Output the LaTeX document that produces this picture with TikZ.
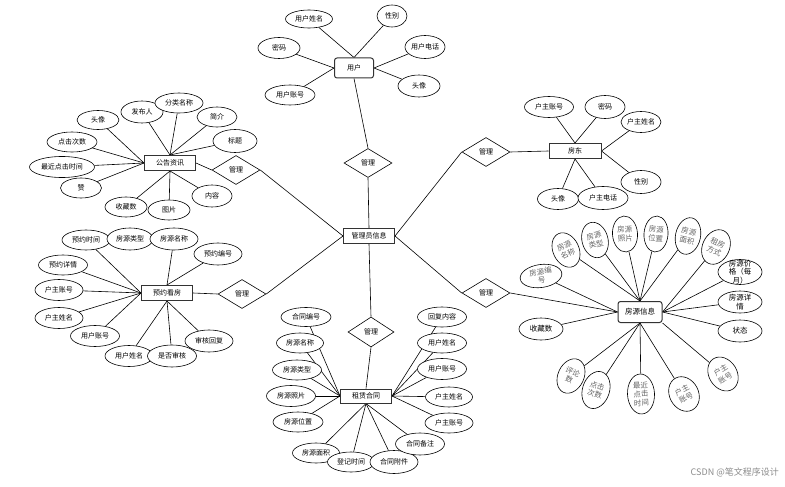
\documentclass[tikz,border=0pt]{standalone}
\usepackage{fontspec}
\setmainfont{Noto Sans CJK SC}
\usetikzlibrary{shapes.geometric,backgrounds}
\begin{document}
\begin{tikzpicture}[x=1pt,y=-1pt,
  every node/.style={inner sep=0pt,font=\fontsize{7}{8}\selectfont},
  sz/.style 2 args={minimum width=#1pt,minimum height=#2pt},
  attr/.style={ellipse,draw,fill=white,line width=0.6pt},
  hattr/.style={ellipse,draw,fill=white,line width=0.6pt,text=black!60,align=center,font=\fontsize{7.5}{8.8}\selectfont},
  ent/.style={rectangle,draw=black!80,fill=white,line width=1pt,minimum width=51pt,minimum height=15pt},
  rel/.style={diamond,draw,fill=white,line width=0.6pt,minimum width=48pt,minimum height=29pt},
  link/.style={line width=0.6pt}]
\useasboundingbox (0,0) rectangle (785,487);

% ---------- user ----------
\node[ent,rounded corners=2.5pt,sz={39}{20}] (u) at (354,68) {用户};
\node[attr,sz={47}{18}] (u1) at (309,19) {用户姓名};
\node[attr,sz={30}{22}] (u2) at (392,16) {性别};
\node[attr,sz={42}{21}] (u3) at (279,48) {密码};
\node[attr,sz={40}{23}] (u4) at (425,47) {用户电话};
\node[attr,sz={42}{22}] (u5) at (419,86) {头像};
\node[attr,sz={50}{20}] (u6) at (290,95) {用户账号};

% ---------- admin + relations ----------
\node[ent] (adm) at (369,236) {管理员信息};
\node[rel] (d1) at (368,163) {管理};
\node[rel] (d2) at (486,152) {管理};
\node[rel] (d3) at (486,293) {管理};
\node[rel,sz={46}{30}] (d4) at (371,332) {管理};
\node[rel] (dn) at (236,170) {管理};
\node[rel] (dr) at (242,294) {管理};

% ---------- notice ----------
\node[ent] (nt) at (170,163) {公告资讯};
\node[attr,sz={42}{19}] (n1) at (98,120) {头像};
\node[attr,sz={42}{22}] (n2) at (142,112) {发布人};
\node[attr,sz={48}{20}] (n3) at (179,103) {分类名称};
\node[attr,sz={40}{20}] (n4) at (217,117) {简介};
\node[attr,sz={44}{23}] (n5) at (235,141) {标题};
\node[attr,sz={50}{20}] (n6) at (72,142) {点击次数};
\node[attr,sz={65}{21}] (n7) at (62,167) {最近点击时间};
\node[attr,sz={41}{20}] (n8) at (81,188) {赞};
\node[attr,sz={42}{20}] (n9) at (126,207) {收藏数};
\node[attr,sz={42}{20}] (n10) at (169,210) {图片};
\node[attr,sz={40}{22}] (n11) at (212,196) {内容};

% ---------- landlord ----------
\node[ent,minimum width=52pt] (ld) at (575,151) {房东};
\node[attr,sz={49}{21}] (l1) at (549,107) {户主账号};
\node[attr,sz={40}{23}] (l2) at (605,107) {密码};
\node[attr,sz={40}{21}] (l3) at (641,122) {户主姓名};
\node[attr,sz={40}{23}] (l4) at (641,182) {性别};
\node[attr,sz={41}{21}] (l5) at (558,199) {头像};
\node[attr,sz={50}{23}] (l6) at (603,198) {户主电话};

% ---------- reservation ----------
\node[ent] (rs) at (167,293) {预约看房};
\node[attr,sz={48}{20}] (r1) at (86,240) {预约时间};
\node[attr,sz={46}{22}] (r2) at (130,239) {房源类型};
\node[attr,sz={48}{22}] (r3) at (174,239) {房源名称};
\node[attr,sz={48}{22}] (r4) at (218,254) {预约编号};
\node[attr,sz={49}{20}] (r5) at (63,265) {预约详情};
\node[attr,sz={48}{21}] (r6) at (59,290) {户主账号};
\node[attr,sz={48}{21}] (r7) at (59,318) {户主姓名};
\node[attr,sz={49}{21}] (r8) at (95,336) {用户账号};
\node[attr,sz={48}{21}] (r9) at (129,356) {用户姓名};
\node[attr,sz={49}{22}] (r10) at (172,356) {是否审核};
\node[attr,sz={48}{22}] (r11) at (209,341) {审核回复};

% ---------- contract ----------
\node[ent,minimum height=14pt] (ct) at (366,396) {租赁合同};
\node[attr,sz={50}{19}] (c1) at (306,317) {合同编号};
\node[attr,sz={47}{20}] (c2) at (300,343) {房源名称};
\node[attr,sz={49}{20}] (c3) at (297,370) {房源类型};
\node[attr,sz={49}{21}] (c4) at (291,396) {房源照片};
\node[attr,sz={50}{20}] (c5) at (298,422) {房源位置};
\node[attr,sz={47}{20}] (c6) at (316,453) {房源面积};
\node[attr,sz={47}{20}] (c7) at (351,462) {登记时间};
\node[attr,sz={48}{23}] (c8) at (394,462) {合同附件};
\node[attr,sz={49}{22}] (c9) at (420,444) {合同备注};
\node[attr,sz={48}{20}] (c10) at (449,423) {户主账号};
\node[attr,sz={47}{20}] (c11) at (449,397) {户主姓名};
\node[attr,sz={49}{21}] (c12) at (442,369) {用户账号};
\node[attr,sz={49}{20}] (c13) at (442,343) {用户姓名};
\node[attr,sz={49}{20}] (c14) at (442,317) {回复内容};

% ---------- housing ----------
\node[ent,rounded corners=2.5pt,sz={44}{21},font=\fontsize{7.5}{8.5}\selectfont] (hs) at (640,312) {房源信息};
\node[hattr,sz={42}{23},rotate=8] (h1) at (541,276) {房源编\\号};
\node[hattr,sz={26}{36},rotate=25] (h2) at (566,250) {房源\\名称};
\node[hattr,sz={26}{36},rotate=15] (h3) at (595,240) {房源\\类型};
\node[hattr,sz={25}{36},rotate=4] (h4) at (625,234) {房源\\照片};
\node[hattr,sz={24}{36},rotate=-4] (h5) at (656,234) {房源\\位置};
\node[hattr,sz={25}{37},rotate=-12] (h6) at (688,236) {房源\\面积};
\node[hattr,sz={27}{36},rotate=-25] (h7) at (716,247) {租房\\方式};
\node[attr,sz={44}{25},label={[align=center,font=\fontsize{7.5}{8.5}\selectfont]center:房源价\\格（每\\月）}] (h8) at (740,272) {};
\node[attr,sz={44}{22},align=center,font=\fontsize{7.5}{8.5}\selectfont] (h9) at (740,302) {房源详\\情};
\node[attr,sz={44}{22},font=\fontsize{7.5}{8.5}\selectfont] (h10) at (740,331) {状态};
\node[attr,sz={44}{22},font=\fontsize{7.5}{8.5}\selectfont] (h11) at (541,329) {收藏数};
\node[hattr,sz={26}{36},rotate=-25] (h12) at (571,376) {评论\\数};
\node[hattr,sz={27}{38},rotate=-18] (h13) at (596,390) {点击\\次数};
\node[hattr,sz={27}{40},rotate=3] (h14) at (641,394) {最近\\点击\\时间};
\node[hattr,sz={29}{36},rotate=28] (h15) at (684,394) {户主\\账号};
\node[hattr,sz={28}{36},rotate=32] (h16) at (723,374) {户主\\账号};

\node[anchor=east,text=black!45,font=\fontsize{9}{10}\selectfont] (wm) at (779,472) {CSDN @笔文程序设计};

% ---------- connectors ----------
\begin{scope}[on background layer]
\fill[white] (0,0) rectangle (785,487);
\draw[link] (u.north) -- (u1);
\draw[link] (u.north) -- (u2);
\draw[link] (u.west) -- (u3);
\draw[link] (u.west) -- (u6);
\draw[link] (u.east) -- (u4);
\draw[link] (u.east) -- (u5);
\draw[link] (u.south) -- (d1.north);
\draw[link] (d1.south) -- (adm.north);
\draw[link] (adm.east) -- (d2.west);
\draw[link] (adm.east) -- (d3.west);
\draw[link] (adm.south) -- (d4.north);
\draw[link] (d4.south) -- (ct.north);
\draw[link] (dn.east) -- (adm.west);
\draw[link] (dr.east) -- (adm.west);
\draw[link] (d2.east) -- (ld.west);
\draw[link] (d3.east) -- (hs.west);
\draw[link] (nt.east) -- (dn.west);
\draw[link] (rs.east) -- (dr.west);
% notice
\foreach \a in {n1,n6,n7,n8} \draw[link] (nt.west) -- (\a);
\foreach \a in {n2,n3,n4,n5} \draw[link] (nt.north) -- (\a);
\foreach \a in {n9,n10,n11} \draw[link] (nt.south) -- (\a);
% landlord
\foreach \a in {l1,l2} \draw[link] (ld.north) -- (\a);
\foreach \a in {l3,l4} \draw[link] (ld.east) -- (\a);
\foreach \a in {l5,l6} \draw[link] (ld.south) -- (\a);
% reservation
\foreach \a in {r1,r5,r6,r7,r8} \draw[link] (rs.west) -- (\a);
\foreach \a in {r3,r4} \draw[link] (rs.north) -- (\a);
\foreach \a in {r9,r10,r11} \draw[link] (rs.south) -- (\a);
% contract
\foreach \a in {c1,c2,c3,c4,c5} \draw[link] (ct.west) -- (\a);
\foreach \a in {c6,c7,c8,c9} \draw[link] (ct.south) -- (\a);
\foreach \a in {c10,c11,c12,c13,c14} \draw[link] (ct.east) -- (\a);
% housing
\foreach \a in {h1,h11} \draw[link] (hs.west) -- (\a);
\foreach \a in {h2,h3,h4,h5,h6} \draw[link] (hs.north) -- (\a);
\foreach \a in {h7,h8,h9,h10} \draw[link] (hs.east) -- (\a);
\foreach \a in {h12,h13,h14,h15} \draw[link] (hs.south) -- (\a);
\draw[link] (hs.south east) -- (h16);
\end{scope}
\end{tikzpicture}
\end{document}
